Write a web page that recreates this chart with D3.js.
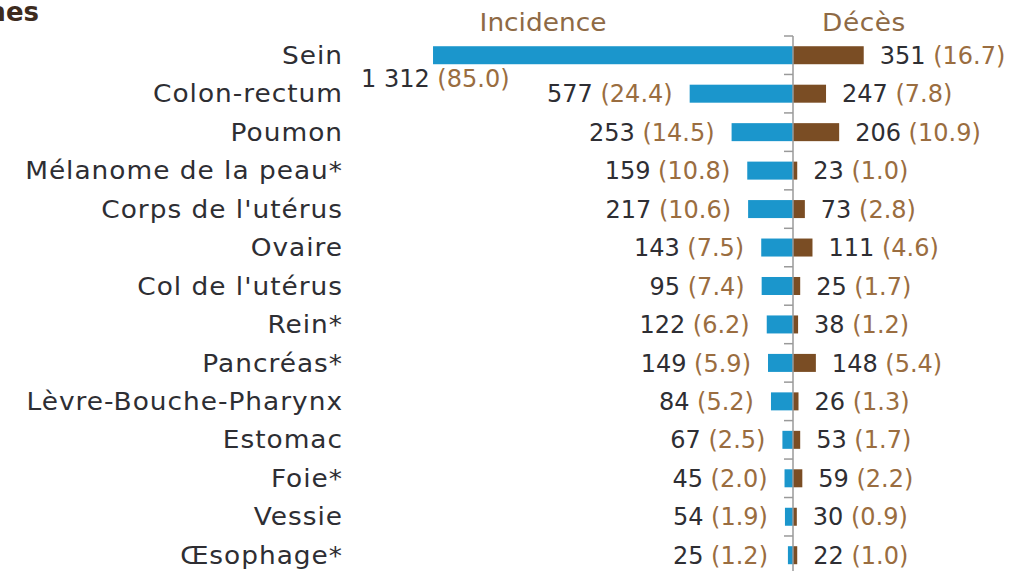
<!DOCTYPE html>
<html>
<head>
<meta charset="utf-8">
<script src="https://cdn.jsdelivr.net/npm/d3@7"></script>
<style>
  html, body { margin: 0; padding: 0; background: #fff; }
  svg { display: block; font-family: "DejaVu Sans", sans-serif; }
</style>
</head>
<body>
<div id="chart"></div>
<script>
// localisations (femmes)
const cancers = ["Sein", "Colon-rectum", "Poumon", "Mélanome de la peau*", "Corps de l'utérus", "Ovaire",
  "Col de l'utérus", "Rein*", "Pancréas*", "Lèvre-Bouche-Pharynx", "Estomac", "Foie*", "Vessie", "Œsophage*"];
const incidenceCount = [1312, 577, 253, 159, 217, 143, 95, 122, 149, 84, 67, 45, 54, 25];
const incidenceRate = [85.0, 24.4, 14.5, 10.8, 10.6, 7.5, 7.4, 6.2, 5.9, 5.2, 2.5, 2.0, 1.9, 1.2];
const decesCount = [351, 247, 206, 23, 73, 111, 25, 38, 148, 26, 53, 59, 30, 22];
const decesRate = [16.7, 7.8, 10.9, 1.0, 2.8, 4.6, 1.7, 1.2, 5.4, 1.3, 1.7, 2.2, 0.9, 1.0];
const headers = ["Incidence", "Décès"];
const title = "Femmes";

const W = 1013, H = 571;
const axisX = 793, unit = 4.235;
const wide = 1.1; // police plus large (façon Century Gothic)
const blue = "#1b96cc", brown = "#7a4d24", numCol = "#2e2e33", rateCol = "#9a6d40", headCol = "#8e6a45";

const rows = cancers.map((c, i) => ({ name: c, inc: incidenceCount[i], incR: incidenceRate[i], dec: decesCount[i], decR: decesRate[i] }));

const svg = d3.select("#chart").append("svg").attr("width", W).attr("height", H);

const y = d3.scaleBand().domain(cancers).range([36, 36 + cancers.length * 38.46]).padding(0);
const xL = d3.scaleLinear().domain([0, 85]).range([axisX, axisX - 85 * unit]);
const xR = d3.scaleLinear().domain([0, 85]).range([axisX, axisX + 85 * unit]);
const barH = 18;
const cy = d => y(d.name) + y.bandwidth() / 2;

const fmtN = d3.formatLocale({ decimal: ",", thousands: " ", grouping: [3], currency: ["", " €"] }).format(",d");
const fmtR = d3.format(".1f");

// titre tronqué en haut à gauche
svg.append("text").attr("x", 39).attr("y", 21).attr("text-anchor", "end")
  .style("font-size", "26px").style("font-weight", "bold").style("fill", "#3d2b1e").text(title);

// en-têtes
svg.append("text").attr("transform", `translate(543,31) scale(${wide},1)`).attr("text-anchor", "middle")
  .style("font-size", "24px").style("fill", headCol).text(headers[0]);
svg.append("text").attr("transform", `translate(864,31) scale(${wide},1)`).attr("text-anchor", "middle")
  .style("font-size", "24px").style("letter-spacing", "0.5px").style("fill", headCol).text(headers[1]);

// barres
svg.append("g").selectAll("rect").data(rows).join("rect")
  .attr("x", d => xL(d.incR)).attr("y", d => cy(d) - barH / 2)
  .attr("width", d => xL(0) - xL(d.incR)).attr("height", barH).attr("fill", blue);
svg.append("g").selectAll("rect").data(rows).join("rect")
  .attr("x", xR(0)).attr("y", d => cy(d) - barH / 2)
  .attr("width", d => xR(d.decR) - xR(0)).attr("height", barH).attr("fill", brown);

// axe central + graduations
svg.append("line").attr("x1", axisX).attr("x2", axisX).attr("y1", 36).attr("y2", H)
  .attr("stroke", "#9a9a9a").attr("stroke-width", 1.5);
svg.append("g").selectAll("line").data(rows).join("line")
  .attr("x1", axisX - 9).attr("x2", axisX).attr("y1", d => y(d.name)).attr("y2", d => y(d.name))
  .attr("stroke", "#9a9a9a").attr("stroke-width", 1.5);

// libellés des localisations
svg.append("g").selectAll("text").data(rows).join("text")
  .attr("transform", d => `translate(343,${cy(d)}) scale(${wide},1)`).attr("dy", "0.36em").attr("text-anchor", "end")
  .style("font-size", "24px").style("letter-spacing", "0.9px").style("fill", numCol).text(d => d.name);

// étiquettes incidence
svg.append("g").selectAll("text").data(rows).join("text")
  .style("font-size", "24px").attr("dy", "0.36em")
  .each(function(d) {
    const t = d3.select(this);
    const start = xL(d.incR);
    if (start < 450) {
      // barre trop longue : étiquette sous la barre
      t.attr("text-anchor", "start").attr("x", start - 72).attr("y", cy(d) + 23);
    } else {
      t.attr("text-anchor", "end").attr("x", Math.min(start - 17, 768)).attr("y", cy(d));
    }
    t.append("tspan").style("fill", numCol).text(fmtN(d.inc));
    t.append("tspan").style("fill", rateCol).text(" (" + fmtR(d.incR) + ")");
  });

// étiquettes décès
svg.append("g").selectAll("text").data(rows).join("text")
  .style("font-size", "24px").attr("dy", "0.36em")
  .attr("x", d => Math.max(xR(d.decR) + 16, 812)).attr("y", cy)
  .each(function(d) {
    const t = d3.select(this);
    t.append("tspan").style("fill", numCol).text(fmtN(d.dec));
    t.append("tspan").style("fill", rateCol).text(" (" + fmtR(d.decR) + ")");
  });
</script>
</body>
</html>
